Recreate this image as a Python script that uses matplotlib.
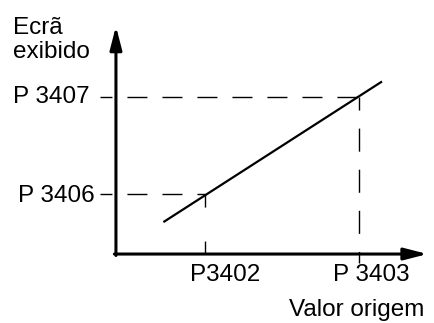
import matplotlib
matplotlib.use("Agg")
import matplotlib.pyplot as plt

plt.rcParams['font.family'] = ['Liberation Sans', 'DejaVu Sans']
plt.rcParams['lines.scale_dashes'] = False

# Schematic units: source values P3402 -> 1, P3403 -> 2; displayed values P3406 -> 1, P3407 -> 2
x_ticks = [1, 2]
x_labels = ["P3402", "P 3403"]
y_ticks = [1, 2]
y_labels = ["P 3406", "P 3407"]

# Linear mapping line
line_x = [0.73, 2.15]
line_y = [0.71, 2.16]

# Axis origin and arrow tips
origin = (0.422, 0.381)
x_tip = 2.445
y_tip = 2.73

fig = plt.figure(figsize=(4.35, 3.23), dpi=100)
ax = fig.add_axes([0, 0, 1, 1])
ax.set_xlim(-0.331, 2.494)
ax.set_ylim(-0.330, 3.0)
ax.axis("off")

arrow = dict(arrowstyle="-|>,head_length=1.4,head_width=0.36", mutation_scale=10,
             lw=2.2, color="black", shrinkA=0, shrinkB=0)
ax.annotate("", xy=(x_tip, origin[1]), xytext=(origin[0] - 0.01, origin[1]), arrowprops=arrow)
ax.annotate("", xy=(origin[0], y_tip), xytext=(origin[0], origin[1] - 0.015), arrowprops=arrow)

# Mapping line
ax.plot(line_x, line_y, color="black", lw=1.6, solid_capstyle="butt")

# Horizontal guides from the y ticks to the line
tick_left = 0.318
for xv, yv in zip(x_ticks, y_ticks):
    ax.plot([tick_left, xv], [yv, yv], color="black", lw=1.0,
            linestyle=(5.8, (14.4, 10.8)))

# Vertical guides from the line down to the x axis
ax.plot([x_ticks[0], x_ticks[0]], [y_ticks[0], origin[1]], color="black", lw=1.0,
        linestyle=(0, (9.4, 24.5)))
ax.plot([x_ticks[1], x_ticks[1]], [y_ticks[1], 0.289], color="black", lw=1.0,
        linestyle=(7.2, (16.6, 13.0)))

fs = 17.5
ax.text(0.253, y_ticks[1], y_labels[1], ha="right", va="center", fontsize=fs)
ax.text(0.286, y_ticks[0] - 0.02, y_labels[0], ha="right", va="center", fontsize=fs)
ax.text(1.13, 0.165, x_labels[0], ha="center", va="center", fontsize=fs)
ax.text(2.078, 0.165, x_labels[1], ha="center", va="center", fontsize=fs)
ax.text(1.987, -0.196, "Valor origem", ha="center", va="center", fontsize=fs)
ax.text(-0.245, 2.82, "Ecrã\nexibido", ha="left", va="top", fontsize=fs, linespacing=1.1)

fig.savefig("out.png", dpi=100)
